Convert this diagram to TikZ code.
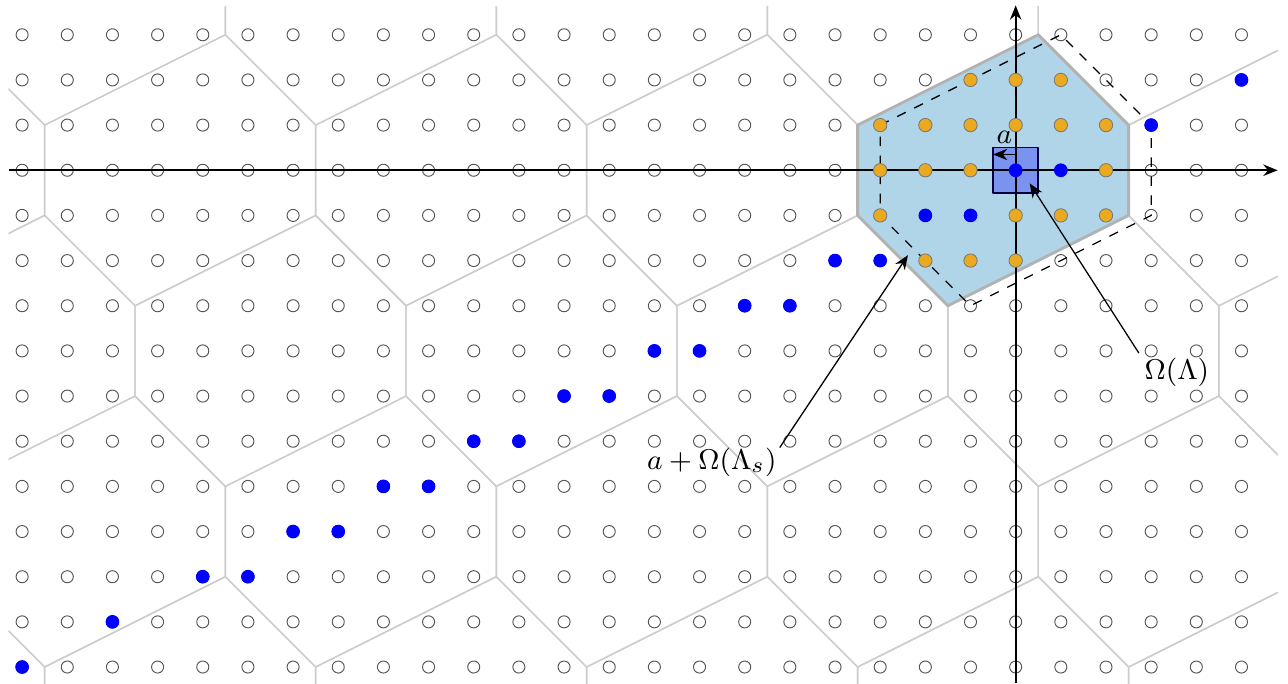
\documentclass[tikz,border=0pt]{standalone}
\usetikzlibrary{arrows.meta}

\definecolor{cellblue}{RGB}{176,212,232}
\definecolor{ptorange}{RGB}{234,170,32}
\definecolor{tilegray}{RGB}{205,205,205}
\definecolor{ringgray}{RGB}{85,85,85}

\begin{document}
\begin{tikzpicture}[x=0.5cm, y=0.5cm, line join=round, >={Stealth[length=4.5pt, width=3.6pt]},
    tile/.style={tilegray, line width=0.45pt},
    ring/.style={draw=ringgray, line width=0.3pt},
    bluept/.style={fill=blue, draw=blue, line width=0.3pt},
    orangept/.style={fill=ptorange, draw=ringgray!80, line width=0.25pt},
    lab/.style={font=\fontsize{9.3}{11}\selectfont}]

    \useasboundingbox (-22.49,-11.36) rectangle (6.03,3.77);

    % --- 1. セル a + Omega(Lambda_s) と Omega(Lambda) ---
    \fill[cellblue] (-3.5,1) -- (0.5,3) -- (2.5,1) -- (2.5,-1) -- (-1.5,-3) -- (-3.5,-1) -- cycle;
    \draw[fill=blue, fill opacity=0.3, draw=black!75!blue, line width=0.5pt]
        (-0.5,-0.5) rectangle (0.5,0.5); % 単位セル

    % --- 2. 部分格子のボロノイ分割 ---
    \begin{scope}
        \clip (-22.3,-11.36) rectangle (5.8,3.63);
        \foreach \m in {-5,...,2}
            \foreach \n in {-3,...,1}
                \draw[tile, shift={({-0.5+6*(\m)-2*(\n)}, {4*(\n)})}]
                    (-3,1) -- (1,3) -- (3,1) -- (3,-1) -- (-1,-3) -- (-3,-1) -- cycle;
    \end{scope}
    \draw[black!30, line width=0.9pt] (-3.5,1) -- (0.5,3) -- (2.5,1) -- (2.5,-1) -- (-1.5,-3) -- (-3.5,-1) -- cycle;

    % --- 3. 格子点 ---
    \foreach \i in {-22,...,5}
        \foreach \j in {-11,...,3}
            \draw[ring] (\i,\j) circle (1.9pt);

    % 座標軸
    \draw[->, line width=0.55pt] (-22.3,0) -- (5.8,0);
    \draw[->, line width=0.55pt] (0,-11.36) -- (0,3.65);

    % 原点中心の Omega(Lambda_s)
    \draw[dashed, line width=0.4pt] (-3,1) -- (1,3) -- (3,1) -- (3,-1) -- (-1,-3) -- (-3,-1) -- cycle;

    % セル内の点
    \foreach \p in {(-1,2),(0,2),(1,2),
                    (-3,1),(-2,1),(-1,1),(0,1),(1,1),(2,1),
                    (-3,0),(-2,0),(-1,0),(2,0),
                    (-3,-1),(0,-1),(1,-1),(2,-1),
                    (-2,-2),(-1,-2),(0,-2)}
        \draw[orangept] \p circle (2.1pt);

    % 青い点列
    \foreach \p in {(0,0),(1,0),(3,1),(5,2),(-22,-11),(-20,-10)}
        \fill[bluept] \p circle (2pt);
    \foreach \k in {-9,...,-1} {
        \fill[bluept] (2*\k,\k) circle (2pt);
        \fill[bluept] (2*\k+1,\k) circle (2pt);
    }

    % --- 4. ラベルと矢印 ---
    \coordinate (aorig) at (0,0.35);
    \coordinate (aend) at (-0.5,0.35);
    \draw[->, line width=0.4pt] (aorig) -- (aend) node[lab, midway, above] (alab) {$a$};

    \node[lab] (omlab) at (3.57,-4.47) {$\Omega(\Lambda)$};
    \node[lab] (cellab) at (-6.73,-6.47) {$a+\Omega(\Lambda_s)$};
    \coordinate (omtip) at (0.31,-0.29);
    \coordinate (celltip) at (-2.385,-1.88);
    \draw[->, line width=0.4pt] ([shift={(1.7pt,6pt)}]omlab.west) -- (omtip);
    \draw[->, line width=0.4pt] ([shift={(-2.5pt,4.7pt)}]cellab.east) -- (celltip);

\end{tikzpicture}
\end{document}
